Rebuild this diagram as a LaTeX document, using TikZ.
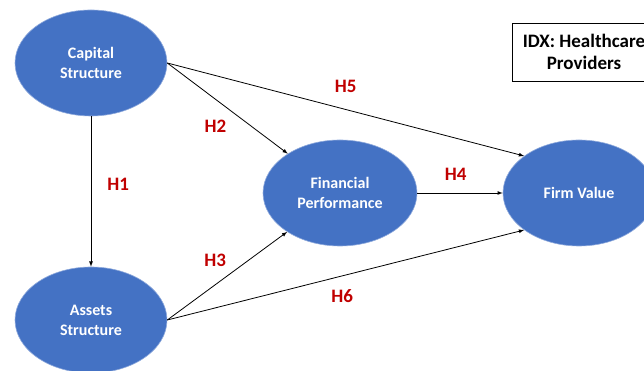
\documentclass[tikz,border=0pt]{standalone}
\usepackage{fontspec}
\setmainfont{Carlito}
\usetikzlibrary{shapes.geometric}
\definecolor{varblue}{HTML}{4472C4}
\definecolor{hypred}{HTML}{C00000}
\begin{document}
\begin{tikzpicture}[
                        x=1pt, y=1pt,
                        >=latex,
                        line width=0.8pt,
                        var/.style={ellipse, fill=varblue, draw=varblue!60!white, line width=0.6pt, minimum width=152pt, minimum height=106pt, inner sep=0pt, text=white, align=center, font=\fontsize{16}{20}\selectfont\bfseries},
                        hyp/.style={text=hypred, inner sep=0pt, font=\fontsize{19}{21}\selectfont\bfseries}
                    ]
                    \useasboundingbox (0,0) rectangle (644,371);
                    % Blocks
                    \node [var] (cap) at (91,308) {Capital\\Structure};
                    \node [var] (assets) at (91,51) {Assets\\Structure};
                    \node [var, minimum width=154pt] (fin) at (340,178) {Financial\\Performance};
                    \node [var] (firm) at (579,178) {Firm Value};
                    \node [rectangle, draw, line width=0.8pt, minimum width=144pt, minimum height=58pt, align=center, font=\fontsize{19}{22}\selectfont\bfseries] (idx) at (584,319) {IDX: Healthcare\\Providers};

                    % Connections
                    \draw [->] (cap.south) --node[hyp, pos=0.45, right=16pt]{H1} (assets.north);
                    \draw [->] (cap.east) --node[hyp, pos=0.4, below=20pt]{H2} (fin);
                    \draw [->] (cap.east) --node[hyp, pos=0.5, above=16pt]{H5} (firm.146);
                    \draw [->] (fin.east) --node[hyp, pos=0.45, above=12pt]{H4} (firm.west);
                    \draw [->] (assets.east) --node[hyp, pos=0.4, above=18pt]{H3} (fin);
                    \draw [->] (assets.east) --node[hyp, pos=0.49, below=13pt]{H6} (firm.214);
                \end{tikzpicture}
\end{document}
